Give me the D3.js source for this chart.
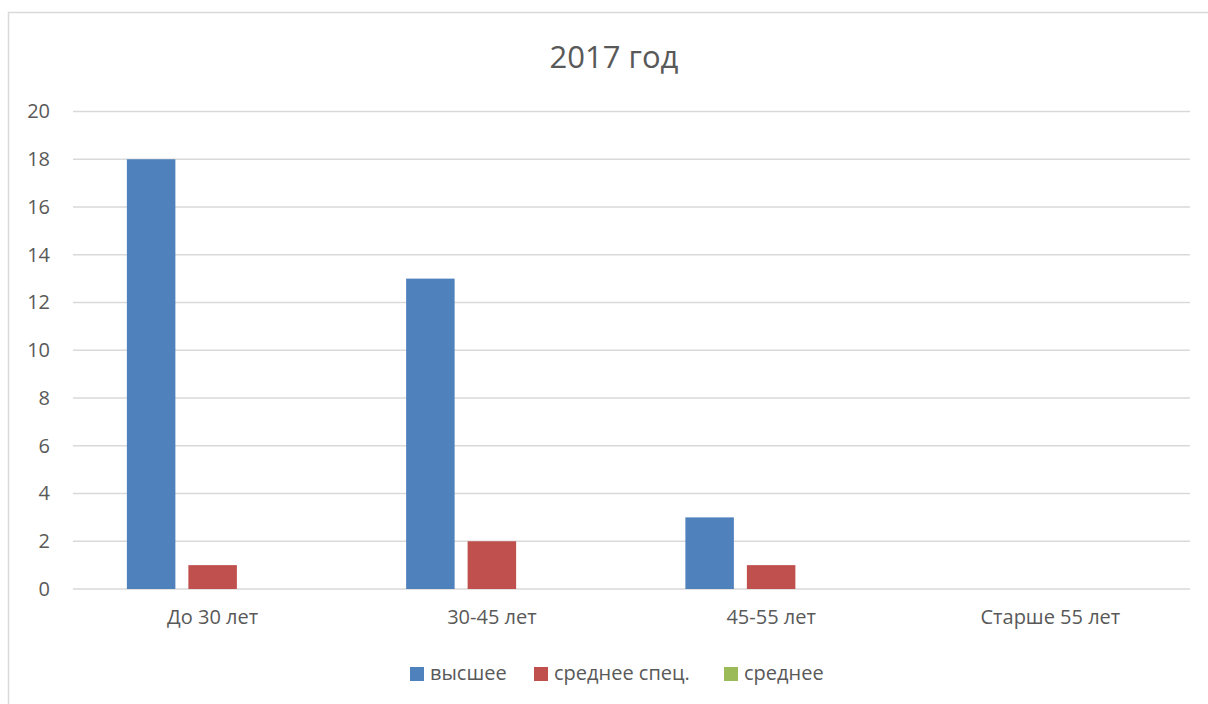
<!DOCTYPE html>
<html>
<head>
<meta charset="utf-8">
<script src="https://cdn.jsdelivr.net/npm/d3@7"></script>
<style>
  body { margin: 0; background: #fff; }
  text { font-family: "Open Sans", sans-serif; fill: #595959; }
</style>
</head>
<body>
<div id="chart"></div>
<script>
// chart data
var categories = ["До 30 лет", "30-45 лет", "45-55 лет", "Старше 55 лет"];
var seriesNames = ["высшее", "среднее спец.", "среднее"];
var higher = [18, 13, 3, 0];
var specialSecondary = [1, 2, 1, 0];
var secondary = [0, 0, 0, 0];
var yTicks = [0, 2, 4, 6, 8, 10, 12, 14, 16, 18, 20];
var colors = ["#4f81bd", "#c0504d", "#9bbb59"];

var svgWidth = 1208;
var svgHeight = 704;

var plot = { left: 73, right: 1190, top: 111.5, bottom: 589 };

var svg = d3.select("#chart")
    .append("svg")
    .attr("width", svgWidth)
    .attr("height", svgHeight);

// outer frame of the chart area
svg.append("rect")
    .attr("x", 8.5)
    .attr("y", 12.5)
    .attr("width", 1210)
    .attr("height", 710)
    .attr("fill", "none")
    .attr("stroke", "#d9d9d9")
    .attr("stroke-width", 1.5);

svg.append("text")
    .attr("x", 614)
    .attr("y", 68)
    .attr("text-anchor", "middle")
    .attr("font-size", 31)
    .text("2017 год");

var x0 = d3.scaleBand()
    .domain(categories)
    .range([plot.left, plot.right]);

var x1 = d3.scaleBand()
    .domain(seriesNames)
    .range([0, x0.bandwidth()])
    .paddingInner(0.2114)
    .paddingOuter(0.876);

var y = d3.scaleLinear()
    .domain([0, 20])
    .range([plot.bottom, plot.top]);

// gridlines
svg.append("g")
    .selectAll("line")
    .data(yTicks)
    .enter()
    .append("line")
    .attr("x1", plot.left)
    .attr("x2", plot.right)
    .attr("y1", d => y(d))
    .attr("y2", d => y(d))
    .attr("stroke", "#d9d9d9")
    .attr("stroke-width", 1.5);

// y axis labels
var leftAxis = d3.axisLeft(y).tickValues(yTicks).tickSize(0).tickPadding(0);
var yAxisG = svg.append("g")
    .attr("transform", "translate(50,0)")
    .call(leftAxis);
yAxisG.select(".domain").remove();
yAxisG.selectAll("text")
    .attr("font-family", null)
    .attr("font-size", 20)
    .attr("fill", "#595959");

// x axis labels
var bottomAxis = d3.axisBottom(x0).tickSize(0).tickPadding(0);
var xAxisG = svg.append("g")
    .attr("transform", `translate(0, ${plot.bottom + 21})`)
    .call(bottomAxis);
xAxisG.select(".domain").remove();
xAxisG.selectAll("text")
    .attr("font-family", null)
    .attr("font-size", 20)
    .attr("fill", "#595959");

// bars
var table = categories.map((c, i) => ({
    category: c,
    values: [higher[i], specialSecondary[i], secondary[i]]
}));

var groups = svg.selectAll(".group")
    .data(table)
    .enter()
    .append("g")
    .attr("class", "group")
    .attr("transform", d => `translate(${x0(d.category)},0)`);

groups.selectAll("rect")
    .data(d => d.values.map((v, j) => ({ name: seriesNames[j], value: v, color: colors[j] })))
    .enter()
    .append("rect")
    .attr("x", d => x1(d.name))
    .attr("y", d => y(d.value))
    .attr("width", x1.bandwidth())
    .attr("height", d => y(0) - y(d.value))
    .attr("fill", d => d.color);

// legend
var legendX = [410, 534, 724];
var legend = svg.selectAll(".legend")
    .data(seriesNames)
    .enter()
    .append("g")
    .attr("class", "legend")
    .attr("transform", (d, i) => `translate(${legendX[i]}, 667)`);

legend.append("rect")
    .attr("width", 14)
    .attr("height", 14)
    .attr("fill", (d, i) => colors[i]);

legend.append("text")
    .attr("x", 20)
    .attr("y", 13)
    .attr("font-size", 20)
    .text(d => d);
</script>
</body>
</html>
